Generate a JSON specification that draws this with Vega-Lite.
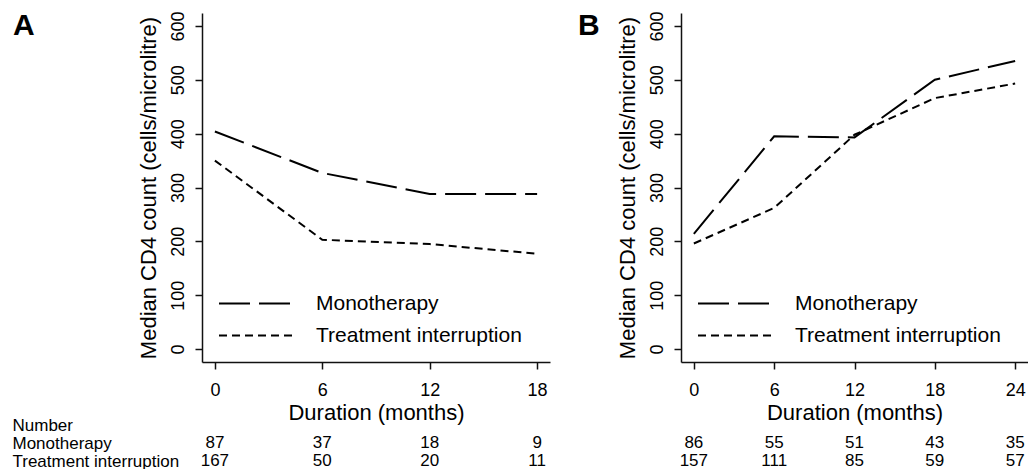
{
  "$schema": "https://vega.github.io/schema/vega-lite/v6.json",
  "padding": {"left": 12, "top": 10, "right": 0, "bottom": 0},
  "background": "white",
  "datasets": {
    "cd4": [
      {"panel": "A", "month": 0, "group": "Monotherapy", "value": 404},
      {"panel": "A", "month": 6, "group": "Monotherapy", "value": 327},
      {"panel": "A", "month": 12, "group": "Monotherapy", "value": 288},
      {"panel": "A", "month": 18, "group": "Monotherapy", "value": 288},
      {"panel": "A", "month": 0, "group": "Treatment interruption", "value": 350},
      {"panel": "A", "month": 6, "group": "Treatment interruption", "value": 203},
      {"panel": "A", "month": 12, "group": "Treatment interruption", "value": 195},
      {"panel": "A", "month": 18, "group": "Treatment interruption", "value": 177},
      {"panel": "B", "month": 0, "group": "Monotherapy", "value": 214},
      {"panel": "B", "month": 6, "group": "Monotherapy", "value": 395},
      {"panel": "B", "month": 12, "group": "Monotherapy", "value": 393},
      {"panel": "B", "month": 18, "group": "Monotherapy", "value": 500},
      {"panel": "B", "month": 24, "group": "Monotherapy", "value": 535},
      {"panel": "B", "month": 0, "group": "Treatment interruption", "value": 196},
      {"panel": "B", "month": 6, "group": "Treatment interruption", "value": 262},
      {"panel": "B", "month": 12, "group": "Treatment interruption", "value": 398},
      {"panel": "B", "month": 18, "group": "Treatment interruption", "value": 466},
      {"panel": "B", "month": 24, "group": "Treatment interruption", "value": 493}
    ],
    "n": [
      {"panel": "A", "month": 0, "group": "Monotherapy", "count": 87},
      {"panel": "A", "month": 6, "group": "Monotherapy", "count": 37},
      {"panel": "A", "month": 12, "group": "Monotherapy", "count": 18},
      {"panel": "A", "month": 18, "group": "Monotherapy", "count": 9},
      {"panel": "A", "month": 0, "group": "Treatment interruption", "count": 167},
      {"panel": "A", "month": 6, "group": "Treatment interruption", "count": 50},
      {"panel": "A", "month": 12, "group": "Treatment interruption", "count": 20},
      {"panel": "A", "month": 18, "group": "Treatment interruption", "count": 11},
      {"panel": "B", "month": 0, "group": "Monotherapy", "count": 86},
      {"panel": "B", "month": 6, "group": "Monotherapy", "count": 55},
      {"panel": "B", "month": 12, "group": "Monotherapy", "count": 51},
      {"panel": "B", "month": 18, "group": "Monotherapy", "count": 43},
      {"panel": "B", "month": 24, "group": "Monotherapy", "count": 35},
      {"panel": "B", "month": 0, "group": "Treatment interruption", "count": 157},
      {"panel": "B", "month": 6, "group": "Treatment interruption", "count": 111},
      {"panel": "B", "month": 12, "group": "Treatment interruption", "count": 85},
      {"panel": "B", "month": 18, "group": "Treatment interruption", "count": 59},
      {"panel": "B", "month": 24, "group": "Treatment interruption", "count": 57}
    ]
  },
  "columns": 2,
  "spacing": {"row": 63, "column": 131},
  "bounds": "flush",
  "align": "each",
  "resolve": {"legend": {"strokeDash": "independent"}, "scale": {"strokeDash": "independent"}},
  "concat": [
    {
      "width": 348, "height": 349,
      "title": {"text": "A", "anchor": "start", "frame": "group", "fontSize": 30, "fontWeight": "bold", "baseline": "alphabetic", "offset": -32, "dx": -189, "dy": 22},
      "data": {"name": "cd4"},
      "transform": [{"filter": "datum.panel == 'A'"}],
      "mark": {"type": "line", "stroke": "black", "strokeWidth": 2},
      "encoding": {
        "x": {"field": "month", "type": "quantitative", "scale": {"domain": [-0.72, 18.72], "nice": false, "zero": false}, "axis": {"values": [0, 6, 12, 18], "title": "Duration (months)"}},
        "y": {"field": "value", "type": "quantitative", "scale": {"domain": [-24, 624], "nice": false, "zero": false}, "axis": {"values": [0, 100, 200, 300, 400, 500, 600], "title": "Median CD4 count (cells/microlitre)", "labelAngle": -90, "labelAlign": "center", "labelBaseline": "bottom", "labelPadding": 8, "titlePadding": 9}},
        "strokeDash": {"field": "group", "type": "nominal", "scale": {"domain": ["Monotherapy", "Treatment interruption"], "range": [[31, 9], [8, 5]]}, "legend": {"orient": "bottom-left", "offset": 16, "title": null}}
      }
    },
    {
      "width": 347, "height": 349,
      "title": {"text": "B", "anchor": "start", "frame": "group", "fontSize": 30, "fontWeight": "bold", "baseline": "alphabetic", "offset": -32, "dx": -103, "dy": 22},
      "data": {"name": "cd4"},
      "transform": [{"filter": "datum.panel == 'B'"}],
      "mark": {"type": "line", "stroke": "black", "strokeWidth": 2},
      "encoding": {
        "x": {"field": "month", "type": "quantitative", "scale": {"domain": [-0.96, 24.96], "nice": false, "zero": false}, "axis": {"values": [0, 6, 12, 18, 24], "title": "Duration (months)"}},
        "y": {"field": "value", "type": "quantitative", "scale": {"domain": [-24, 624], "nice": false, "zero": false}, "axis": {"values": [0, 100, 200, 300, 400, 500, 600], "title": "Median CD4 count (cells/microlitre)", "labelAngle": -90, "labelAlign": "center", "labelBaseline": "bottom", "labelPadding": 8, "titlePadding": 9}},
        "strokeDash": {"field": "group", "type": "nominal", "scale": {"domain": ["Monotherapy", "Treatment interruption"], "range": [[31, 9], [8, 5]]}, "legend": {"orient": "bottom-left", "offset": 16, "title": null}}
      }
    },
    {
      "width": 348, "height": 36,
      "data": {"name": "n"},
      "transform": [{"filter": "datum.panel == 'A'"}],
      "mark": {"type": "text", "fontSize": 17, "color": "black"},
      "encoding": {
        "x": {"field": "month", "type": "quantitative", "scale": {"domain": [-0.72, 18.72], "nice": false, "zero": false}, "axis": null},
        "y": {"field": "group", "type": "ordinal", "scale": {"type": "point", "domain": ["Number", "Monotherapy", "Treatment interruption"], "padding": 0}, "axis": {"title": null, "domain": false, "ticks": false, "labelAlign": "left", "labelBaseline": "middle", "labelPadding": 190, "labelFontSize": 17, "labelLimit": 0}},
        "text": {"field": "count", "type": "quantitative"}
      }
    },
    {
      "width": 347, "height": 36,
      "data": {"name": "n"},
      "transform": [{"filter": "datum.panel == 'B'"}],
      "mark": {"type": "text", "fontSize": 17, "color": "black"},
      "encoding": {
        "x": {"field": "month", "type": "quantitative", "scale": {"domain": [-0.96, 24.96], "nice": false, "zero": false}, "axis": null},
        "y": {"field": "group", "type": "ordinal", "scale": {"type": "point", "domain": ["Number", "Monotherapy", "Treatment interruption"], "padding": 0}, "axis": null},
        "text": {"field": "count", "type": "quantitative"}
      }
    }
  ],
  "config": {
    "font": "Liberation Sans",
    "view": {"stroke": null},
    "title": {"color": "black", "font": "Liberation Sans"},
    "axis": {
      "grid": false,
      "domainColor": "#111",
      "domainWidth": 1.5,
      "tickColor": "#111",
      "tickWidth": 1.5,
      "tickSize": 7,
      "labelColor": "black",
      "labelFontSize": 18,
      "labelFont": "Liberation Sans",
      "titleColor": "black",
      "titleFontSize": 22,
      "titleFontWeight": "normal",
      "titleFont": "Liberation Sans"
    },
    "axisX": {"labelPadding": 12, "titlePadding": 3, "labelAngle": 0},
    "legend": {
      "symbolType": "M-3,0H3",
      "symbolSize": 625,
      "symbolOffset": 25,
      "symbolStrokeColor": "black",
      "symbolStrokeWidth": 2,
      "labelFontSize": 21,
      "labelColor": "black",
      "labelFont": "Liberation Sans",
      "labelOffset": 46,
      "labelLimit": 0,
      "rowPadding": 8,
      "padding": 0
    }
  }
}
